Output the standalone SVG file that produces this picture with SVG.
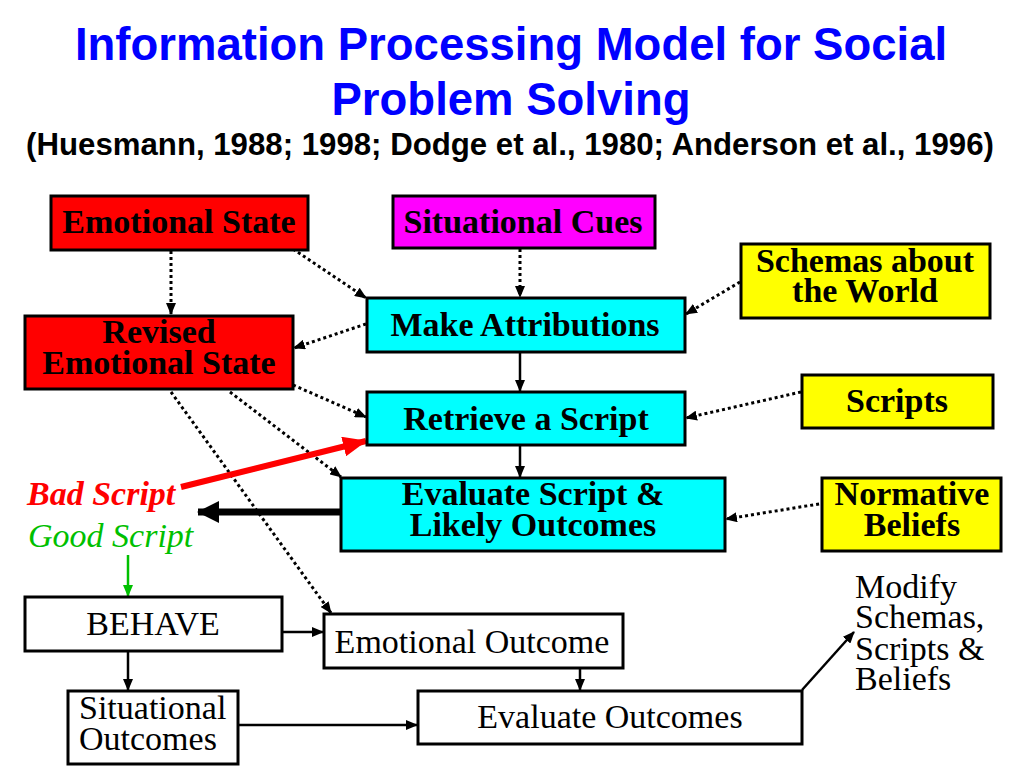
<svg xmlns="http://www.w3.org/2000/svg" width="1024" height="768" viewBox="0 0 1024 768">
<defs>
<marker id="ah" markerUnits="userSpaceOnUse" markerWidth="12" markerHeight="10" refX="11" refY="5" orient="auto"><path d="M0,0 L12,5 L0,10 Z" fill="#000"/></marker>
<marker id="ahg" markerUnits="userSpaceOnUse" markerWidth="12" markerHeight="10" refX="11" refY="5" orient="auto"><path d="M0,0 L12,5 L0,10 Z" fill="#00C000"/></marker>
<marker id="ahr" markerUnits="userSpaceOnUse" markerWidth="24" markerHeight="20" refX="23" refY="10" orient="auto"><path d="M0,0 L24,10 L0,20 Z" fill="#FF0000"/></marker>
<marker id="ahb" markerUnits="userSpaceOnUse" markerWidth="22" markerHeight="22" refX="21" refY="11" orient="auto"><path d="M0,0 L22,11 L0,22 Z" fill="#000"/></marker>
</defs>
<style>
.box{stroke:#000;stroke-width:3}
.bt{font-family:"Liberation Serif","Times New Roman",serif;font-weight:bold;font-size:34px;fill:#000;text-anchor:middle}
.rt{font-family:"Liberation Serif","Times New Roman",serif;font-size:34px;fill:#000;text-anchor:middle}
.dot{fill:none;stroke:#000;stroke-width:3;stroke-dasharray:3 3}
.sol{fill:none;stroke:#000;stroke-width:2.5}
</style>
<rect width="1024" height="768" fill="#fff"/>
<g id="title" font-family="'Liberation Sans',Arial,sans-serif" font-weight="bold" text-anchor="middle">
<text x="511" y="60" font-size="45.5" fill="#0000FF">Information Processing Model for Social</text>
<text x="511" y="115" font-size="45.5" fill="#0000FF">Problem Solving</text>
<text x="510" y="155" font-size="31.2" fill="#000">(Huesmann, 1988; 1998; Dodge et al., 1980; Anderson et al., 1996)</text>
</g>
<g id="connectors">
<line class="dot" x1="171" y1="251" x2="171" y2="314" marker-end="url(#ah)"/>
<line class="dot" x1="293" y1="249" x2="366" y2="298" marker-end="url(#ah)"/>
<line class="dot" x1="520" y1="249" x2="520" y2="297" marker-end="url(#ah)"/>
<line class="dot" x1="740" y1="282" x2="686" y2="314" marker-end="url(#ah)"/>
<line class="dot" x1="366" y1="324" x2="294" y2="348" marker-end="url(#ah)"/>
<line class="dot" x1="293" y1="385" x2="366" y2="417" marker-end="url(#ah)"/>
<line class="dot" x1="230" y1="392" x2="341" y2="477" marker-end="url(#ah)"/>
<line class="dot" x1="171" y1="392" x2="331" y2="613" marker-end="url(#ah)"/>
<line class="dot" x1="801" y1="392" x2="686" y2="418" marker-end="url(#ah)"/>
<line class="dot" x1="825" y1="503" x2="726" y2="519" marker-end="url(#ah)"/>
<line class="sol" x1="520" y1="352" x2="520" y2="391" marker-end="url(#ah)"/>
<line class="sol" x1="520" y1="446" x2="520" y2="477" marker-end="url(#ah)"/>
<line x1="181" y1="487" x2="366" y2="441" stroke="#FF0000" stroke-width="6" marker-end="url(#ahr)"/>
<line x1="341" y1="512" x2="198" y2="512" stroke="#000" stroke-width="7" marker-end="url(#ahb)"/>
<line x1="128" y1="555" x2="128" y2="596" stroke="#00C000" stroke-width="2.5" marker-end="url(#ahg)"/>
<line class="sol" x1="282" y1="632" x2="323" y2="632" marker-end="url(#ah)"/>
<line class="sol" x1="128" y1="651" x2="128" y2="690" marker-end="url(#ah)"/>
<line class="sol" x1="580" y1="668" x2="580" y2="690" marker-end="url(#ah)"/>
<line class="sol" x1="238" y1="725" x2="417" y2="725" marker-end="url(#ah)"/>
<line class="sol" x1="802" y1="690" x2="854" y2="632" marker-end="url(#ah)"/>
</g>
<g id="emotional-state"><rect class="box" x="51" y="196" width="257" height="54" fill="#FF0000"/><text class="bt" x="179" y="233">Emotional State</text></g>
<g id="situational-cues"><rect class="box" x="393" y="196" width="262" height="52" fill="#FF00FF"/><text class="bt" x="523" y="233">Situational Cues</text></g>
<g id="make-attributions"><rect class="box" x="367" y="298" width="318" height="54" fill="#00FFFF"/><text class="bt" x="525" y="336">Make Attributions</text></g>
<g id="revised-emotional-state"><rect class="box" x="25" y="316" width="268" height="73" fill="#FF0000"/><text class="bt" x="159" y="343">Revised</text><text class="bt" x="159" y="374">Emotional State</text></g>
<g id="retrieve-script"><rect class="box" x="367" y="392" width="318" height="53" fill="#00FFFF"/><text class="bt" x="526" y="430">Retrieve a Script</text></g>
<g id="schemas"><rect class="box" x="741" y="244" width="249" height="74" fill="#FFFF00"/><text class="bt" x="865" y="272">Schemas about</text><text class="bt" x="865" y="302">the World</text></g>
<g id="scripts"><rect class="box" x="802" y="375" width="191" height="53" fill="#FFFF00"/><text class="bt" x="897" y="412">Scripts</text></g>
<g id="evaluate-script"><rect class="box" x="341" y="478" width="384" height="73" fill="#00FFFF"/><text class="bt" x="533" y="505">Evaluate Script &amp;</text><text class="bt" x="533" y="536">Likely Outcomes</text></g>
<g id="normative-beliefs"><rect class="box" x="822" y="478" width="179" height="73" fill="#FFFF00"/><text class="bt" x="912" y="505">Normative</text><text class="bt" x="912" y="536">Beliefs</text></g>
<g id="labels" font-family="'Liberation Serif','Times New Roman',serif" font-style="italic" font-size="34">
<text x="27" y="505" fill="#FF0000" font-weight="bold">Bad Script</text>
<text x="28" y="547" fill="#00C000">Good Script</text>
</g>
<g id="behave"><rect class="box" x="25" y="597" width="257" height="54" fill="#fff"/><text class="rt" x="153" y="635">BEHAVE</text></g>
<g id="emotional-outcome"><rect class="box" x="324" y="614" width="299" height="54" fill="#fff"/><text class="rt" x="472" y="653">Emotional Outcome</text></g>
<g id="situational-outcomes"><rect class="box" x="68" y="691" width="170" height="73" fill="#fff"/><text class="rt" x="79" y="719" style="text-anchor:start">Situational</text><text class="rt" x="79" y="750" style="text-anchor:start">Outcomes</text></g>
<g id="evaluate-outcomes"><rect class="box" x="418" y="691" width="384" height="53" fill="#fff"/><text class="rt" x="610" y="728">Evaluate Outcomes</text></g>
<g id="modify" font-family="'Liberation Serif','Times New Roman',serif" font-size="34" fill="#000">
<text x="855" y="598">Modify</text>
<text x="855" y="628">Schemas,</text>
<text x="855" y="660">Scripts &amp;</text>
<text x="855" y="690">Beliefs</text>
</g>
</svg>
